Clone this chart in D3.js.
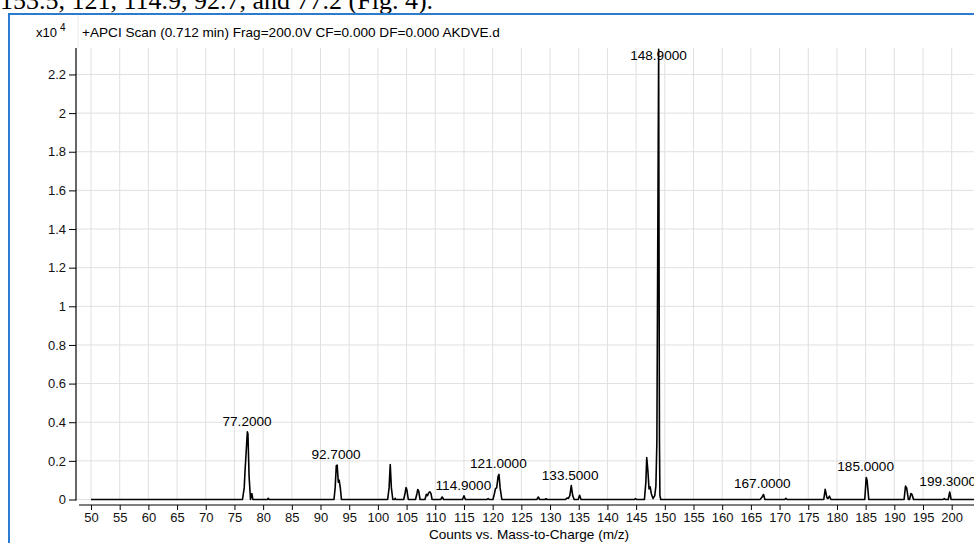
<!DOCTYPE html>
<html>
<head>
<meta charset="utf-8">
<script src="https://cdn.jsdelivr.net/npm/d3@7"></script>
<style>
  body { margin: 0; background: #fff; }
  svg { display: block; font-family: "Liberation Sans", Arial, sans-serif; }
</style>
</head>
<body>
<div id="spectrum"></div>
<script>
// profile points: m/z and counts (x10^4)
var mz = [50,
    76.4, 76.7, 76.85, 77.05, 77.25, 77.35, 77.55, 77.8, 77.95, 78.05, 78.2,
    80.75, 80.9, 81.05,
    92.35, 92.55, 92.75, 92.9, 93.1, 93.25, 93.45, 93.65,
    101.7, 101.95, 102.15, 102.35, 102.6, 102.9, 103.0, 103.1,
    104.5, 104.75, 104.9, 105.05, 105.3,
    106.55, 106.8, 106.95, 107.1, 107.35,
    108.2, 108.45, 108.65, 108.85, 109.05, 109.25, 109.45,
    110.95, 111.2, 111.45,
    114.75, 115.0, 115.25,
    119.0, 119.2, 119.4,
    120.05, 120.3, 120.5, 120.7, 120.95, 121.1, 121.3, 121.6,
    127.7, 127.95, 128.2,
    129.1, 129.3, 129.5,
    132.7, 132.95, 133.2, 133.45, 133.7, 133.95, 134.2,
    134.9, 135.15, 135.4,
    144.7, 144.9, 145.1,
    146.45, 146.7, 146.85, 147.05, 147.25, 147.45, 147.65, 147.95, 148.25, 148.45,
    148.62, 148.8, 148.93, 149.0, 149.07, 149.15, 149.3,
    166.6, 166.9, 167.2, 167.45,
    170.9, 171.1, 171.3,
    177.7, 177.95, 178.25, 178.45, 178.7, 178.95,
    184.85, 185.1, 185.25, 185.55,
    191.7, 191.95, 192.15, 192.45, 192.65, 192.9, 193.1, 193.35,
    198.5, 198.7, 198.9, 199.4, 199.65, 199.9,
    206];
var counts = [0,
    0, 0.06, 0.15, 0.25, 0.35, 0.34, 0.12, 0, 0.03, 0.03, 0,
    0, 0.006, 0,
    0, 0.06, 0.175, 0.178, 0.09, 0.1, 0.06, 0,
    0, 0.06, 0.181, 0.06, 0, 0, 0.006, 0,
    0, 0.035, 0.062, 0.05, 0,
    0, 0.03, 0.052, 0.045, 0,
    0, 0.027, 0.02, 0.035, 0.04, 0.03, 0,
    0, 0.013, 0,
    0, 0.019, 0,
    0, 0.005, 0,
    0, 0.03, 0.057, 0.06, 0.12, 0.13, 0.06, 0,
    0, 0.013, 0,
    0, 0.004, 0,
    0, 0.008, 0.006, 0.02, 0.072, 0.02, 0,
    0, 0.022, 0,
    0, 0.005, 0,
    0, 0.09, 0.217, 0.15, 0.055, 0.065, 0.03, 0.005, 0.02, 0.07,
    0.3, 1.5, 2.33, 1.2, 0.3, 0.02, 0,
    0, 0.01, 0.026, 0,
    0, 0.006, 0,
    0, 0.053, 0.01, 0.005, 0.017, 0,
    0, 0.114, 0.1, 0,
    0, 0.069, 0.06, 0, 0, 0.031, 0.025, 0,
    0, 0.005, 0, 0, 0.039, 0,
    0];

// labelled peaks
var labelMz = [77.2, 92.7, 114.9, 121.0, 133.5, 148.9, 167.0, 185.0, 199.3];

// axis ticks
var xTicks = [50, 55, 60, 65, 70, 75, 80, 85, 90, 95, 100, 105, 110, 115, 120, 125,
    130, 135, 140, 145, 150, 155, 160, 165, 170, 175, 180, 185, 190, 195, 200];
var yTicks = [0, 0.2, 0.4, 0.6, 0.8, 1, 1.2, 1.4, 1.6, 1.8, 2, 2.2];

var width = 974, height = 543;
var data = mz.map(function (m, i) { return { mz: m, c: counts[i] } });

var svg = d3.select("#spectrum")
    .append("svg")
    .attr("width", width)
    .attr("height", height);

svg.append("rect").attr("width", width).attr("height", height).attr("fill", "#fff");

// caption line from the paper, cut off by the crop
svg.append("text")
    .attr("x", 0).attr("y", 9)
    .style("font-family", "'Liberation Serif', 'Times New Roman', serif")
    .style("font-size", "26px")
    .text("153.5, 121, 114.9, 92.7, and 77.2 (Fig. 4).");

// blue frame of the chart window
svg.append("rect")
    .attr("x", 9).attr("y", 14)
    .attr("width", width + 20).attr("height", height + 20)
    .attr("fill", "none")
    .attr("stroke", "#2b7bd0")
    .attr("stroke-width", 2);

/*   Scales   */
var x = d3.scaleLinear()
    .domain([50, 206])
    .range([91, 91 + 156 * 5.738]);

var y = d3.scaleLinear()
    .domain([0, 2.337])
    .range([499.5, 48]);

var axisX = 76, axisY = 505;

// header
svg.append("line")
    .attr("x1", axisX + 2).attr("x2", axisX + 2)
    .attr("y1", 15).attr("y2", y.range()[1])
    .attr("stroke", "#ececec");
var hdr = svg.append("text").attr("x", 36).attr("y", 37).style("font-size", "13px");
hdr.append("tspan").text("x10");
hdr.append("tspan").attr("dx", 3).attr("dy", -6).style("font-size", "10px").text("4");
svg.append("text")
    .attr("x", 82).attr("y", 37)
    .style("font-size", "13.6px")
    .text("+APCI Scan (0.712 min) Frag=200.0V CF=0.000 DF=0.000 AKDVE.d");

/*   Grid   */
var grid = svg.append("g").attr("stroke", "#e0e0e0").attr("stroke-width", 1);
grid.selectAll("line.v")
    .data(xTicks)
    .enter()
    .append("line")
    .attr("x1", function (d) { return x(d) }).attr("x2", function (d) { return x(d) })
    .attr("y1", y.range()[1]).attr("y2", y(0) + 1);
grid.selectAll("line.h")
    .data(yTicks)
    .enter()
    .append("line")
    .attr("x1", axisX).attr("x2", width)
    .attr("y1", function (d) { return y(d) }).attr("y2", function (d) { return y(d) });

/*   Axes   */
var gy = svg.append("g")
    .attr("transform", "translate(" + axisX + ",0)")
    .call(d3.axisLeft(y).tickValues(yTicks).tickSize(7).tickPadding(3).tickSizeOuter(0)
        .tickFormat(function (d) { return String(+d.toFixed(1)) }));
gy.select(".domain").remove();
gy.append("line")
    .attr("y1", y.range()[1]).attr("y2", y(0) + 1)
    .attr("stroke", "#000").attr("stroke-width", 1.2);

var gx = svg.append("g")
    .attr("transform", "translate(0," + axisY + ")")
    .call(d3.axisBottom(x).tickValues(xTicks).tickSize(5).tickPadding(3).tickSizeOuter(0));
gx.select(".domain").remove();
gx.append("line")
    .attr("x1", axisX + 3).attr("x2", width)
    .attr("stroke", "#000").attr("stroke-width", 1.2);

svg.selectAll(".tick text").style("font-size", "13px").attr("fill", "#111")
    .style("font-family", "'Liberation Sans', Arial, sans-serif");
svg.selectAll(".tick line").attr("stroke", "#000");

svg.append("text")
    .attr("x", 529).attr("y", 539)
    .attr("text-anchor", "middle")
    .style("font-size", "13.6px")
    .text("Counts vs. Mass-to-Charge (m/z)");

/*   Spectrum line   */
svg.append("path")
    .datum(data)
    .attr("fill", "none")
    .attr("stroke", "#000")
    .attr("stroke-width", 1.6)
    .attr("stroke-linejoin", "round")
    .attr("d", d3.line()
        .x(function (d) { return x(d.mz) })
        .y(function (d) { return y(d.c) })
    );

/*   Peak labels   */
svg.append("g")
    .selectAll("text")
    .data(labelMz)
    .enter()
    .append("text")
    .attr("x", function (d) { return x(d) })
    .attr("y", function (d) {
        var top = d3.max(data.filter(function (p) { return Math.abs(p.mz - d) <= 0.5 }), function (p) { return p.c });
        return Math.max(y(top) - 6, 60);
    })
    .attr("text-anchor", "middle")
    .style("font-size", "13.6px")
    .text(function (d) { return d3.format(".4f")(d) });
</script>
</body>
</html>
